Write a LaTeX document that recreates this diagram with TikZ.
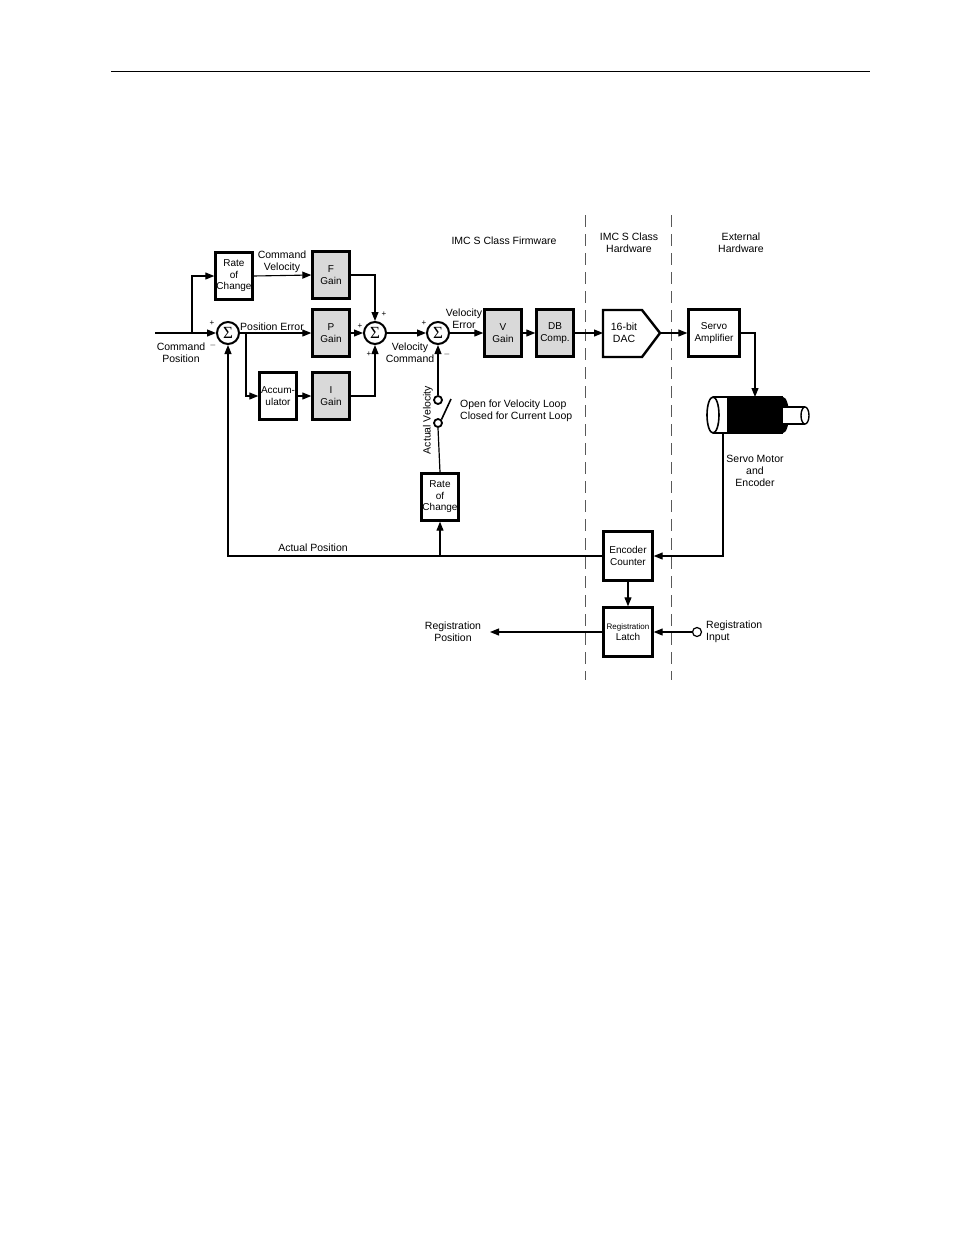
\documentclass[tikz,border=0pt]{standalone}
\usepackage{fontspec}
\setmainfont{Liberation Sans}
\newfontfamily\sigfont{Liberation Serif}
\usetikzlibrary{arrows.meta,shapes.geometric}
\begin{document}
\begin{tikzpicture}[x=1pt,y=-1pt,
 txt/.style={font=\fontsize{10.5}{12}\selectfont,align=center,inner sep=0pt},
 blk/.style={draw,line width=2.4pt,minimum width=37pt,minimum height=47pt,txt,font=\fontsize{10}{11.5}\selectfont},
 gblk/.style={blk,fill=gray!30},
 sig/.style={draw,line width=2pt,circle,minimum size=22pt,inner sep=0pt},
 sm/.style={font=\fontsize{8}{9}\selectfont,inner sep=0pt},
 ar/.style={-{Triangle[length=9pt,width=7pt]},line width=1.1pt},
 ln/.style={line width=1.2pt}]
\newcommand\sgm{{\sigfont\fontsize{17}{17}\selectfont Σ}}
\useasboundingbox (0,0) rectangle (954,1235);
\draw[line width=0.8pt] (111,71) -- (870,71);
\draw[dash pattern=on 12pt off 7pt,gray!70!black,line width=0.9pt] (585,215) -- (585,680);
\draw[dash pattern=on 12pt off 7pt,gray!70!black,line width=0.9pt] (671,215) -- (671,680);
% blocks
\node[blk] (roc1) at (234,276) {Rate\\of\\Change};
\node[gblk] (f) at (331,275) {F\\Gain};
\node[gblk] (p) at (331,333) {P\\Gain};
\node[gblk] (i) at (331,396) {I\\Gain};
\node[blk] (acc) at (278,396) {Accum-\\ulator};
\node[sig] (s1) at (228,333) {\sgm};
\node[sig] (s2) at (375,333) {\sgm};
\node[sig] (s3) at (438,333) {\sgm};
\node[gblk] (v) at (503,333) {V\\Gain};
\node[gblk] (db) at (555,333) {DB\\Comp.};
\draw[line width=2.4pt,line join=miter] (603,310) -- (642,310) -- (660,333) -- (642,357) -- (603,357) -- cycle;
\node[txt] (dac) at (624,333) {16-bit\\DAC};
\coordinate (dacin) at (603,333); \coordinate (dacout) at (660,333);
\node[blk,minimum width=51pt] (amp) at (714,333) {Servo\\Amplifier};
\node[blk,minimum width=49pt,minimum height=49pt] (enc) at (628,556) {Encoder\\Counter};
\node[blk,minimum width=49pt,minimum height=49pt] (lat) at (628,632) {\fontsize{8}{10}\selectfont Registration\\Latch};
\node[blk] (roc2) at (440,497) {Rate\\of\\Change};
% motor
\fill[white] (713,397) rectangle (783,433);
\draw[line width=1.6pt,fill=white] (713,415) ellipse[x radius=6,y radius=18];
\fill[black] (727,397) rectangle (783,433);
\fill[black] (783,415) ellipse[x radius=6,y radius=18];
\draw[line width=1.6pt] (713,397) -- (783,397) (713,433) -- (783,433);
\fill[white] (783,407) rectangle (805,424);
\draw[line width=1.4pt] (783,407) -- (805,407) (783,424) -- (805,424);
\draw[line width=1.4pt,fill=white] (805,415.5) ellipse[x radius=4,y radius=8.5];
\coordinate (mtop) at (755,397); \coordinate (mbot) at (723,433);
% switch
\node[draw,circle,line width=1.8pt,minimum size=8pt,inner sep=0pt] (swu) at (438,400) {};
\node[draw,circle,line width=1.8pt,minimum size=8pt,inner sep=0pt] (swl) at (438,423) {};
\draw[line width=1.6pt] (swl.north east) -- (451,399);
\node[draw,circle,line width=1.2pt,minimum size=9pt,inner sep=0pt] (rin) at (697,632) {};
\coordinate (cmd) at (155,333);
\coordinate (rpos) at (490,632);
% connectors
\draw[ar] (cmd) -- (s1.west);
\draw[ar] (192,333) |- (roc1.west);
\draw[ar] (roc1.east) -- (f.west);
\draw[ar] (s1.east) -- (p.west);
\draw[ar] (246,333) |- (acc.west);
\draw[ar] (acc.east) -- (i.west);
\draw[ar] (f.east) -| (s2.north);
\draw[ar] (p.east) -- (s2.west);
\draw[ar] (i.east) -| (s2.south);
\draw[ar] (s2.east) -- (s3.west);
\draw[ar] (s3.east) -- (v.west);
\draw[ar] (v.east) -- (db.west);
\draw[ar] (db.east) -- (dacin);
\draw[ar] (dacout) -- (amp.west);
\draw[ar] (amp.east) -| (mtop);
\draw[ar] (mbot) |- (enc.east);
\draw[ar] (enc.south) -- (lat.north);
\draw[ar] (rin.west) -- (lat.east);
\draw[ar] (lat.west) -- (rpos);
\draw[ar] (enc.west) -| (s1.south);
\draw[ar] (440,556) -- (roc2.south);
\draw[ln] (roc2.north) -- (swl.south);
\draw[ar] (swu.north) -- (s3.south);
% labels
\node[txt] at (181,353) {Command\\Position};
\node[txt] at (282,262) {Command\\Velocity};
\node[txt,anchor=west] at (240,327) {Position Error};
\node[txt] at (410,353) {Velocity\\Command};
\node[txt] at (464,319) {Velocity\\Error};
\node[txt,rotate=90] at (428,420) {Actual Velocity};
\node[txt,align=left,anchor=west] at (460,411) {Open for Velocity Loop\\Closed for Current Loop};
\node[txt] at (313,548) {Actual Position};
\node[txt] at (504,241) {IMC S Class Firmware};
\node[txt] at (629,243) {IMC S Class\\Hardware};
\node[txt] at (741,243) {External\\Hardware};
\node[txt] at (755,471) {Servo Motor\\and\\Encoder};
\node[txt] at (453,632) {Registration\\Position};
\node[txt,align=left,anchor=west] at (706,632) {Registration\\Input};
\node[sm] at (212,323) {+}; \node[sm] at (213,345) {$-$};
\node[sm] at (384,314) {+}; \node[sm] at (360,326) {+}; \node[sm] at (369,354) {+};
\node[sm] at (424,323) {+}; \node[sm] at (447,354) {$-$};
\end{tikzpicture}
\end{document}
